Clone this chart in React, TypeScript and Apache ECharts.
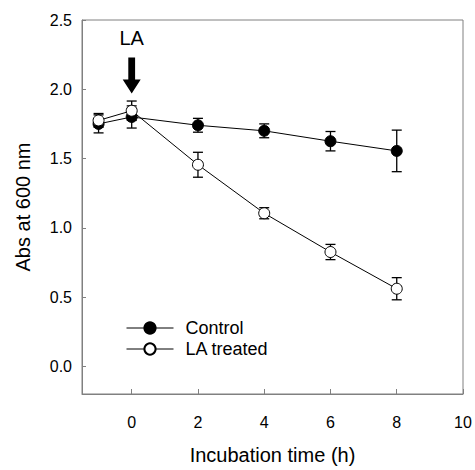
import React, { useEffect, useRef } from "react";
import * as echarts from "echarts";

const times = [-1, 0, 2, 4, 6, 8];
const control = [1.75, 1.8, 1.74, 1.7, 1.625, 1.555];
const controlErr = [0.065, 0.08, 0.05, 0.05, 0.07, 0.15];
const laTreated = [1.775, 1.845, 1.455, 1.105, 0.825, 0.56];
const laErr = [0.05, 0.07, 0.09, 0.04, 0.055, 0.08];
const xTicks = [0, 2, 4, 6, 8, 10];
const yTicks = [0, 0.5, 1.0, 1.5, 2.0, 2.5];
const seriesNames = ["Control", "LA treated"];
const arrowX = 0;
const arrowTipY = 1.97;

const FONT = '"Liberation Sans", Arial, Helvetica, sans-serif';
const AXIS_COLOR = "#808080";

function errData(vals: number[], errs: number[]) {
  return times.map((t, i) => [t, vals[i] - errs[i], vals[i] + errs[i]]);
}

function errRender(params: any, api: any) {
  const x = api.value(0);
  const lo = api.value(1);
  const hi = api.value(2);
  const pTop = api.coord([x, hi]);
  const pBot = api.coord([x, lo]);
  const w = 5;
  const style = { stroke: "#000", lineWidth: 1.3 };
  return {
    type: "group",
    children: [
      { type: "line", shape: { x1: pTop[0], y1: pTop[1], x2: pBot[0], y2: pBot[1] }, style },
      { type: "line", shape: { x1: pTop[0] - w, y1: pTop[1], x2: pTop[0] + w, y2: pTop[1] }, style },
      { type: "line", shape: { x1: pBot[0] - w, y1: pBot[1], x2: pBot[0] + w, y2: pBot[1] }, style },
    ],
  };
}

function legendFor(name: string, top: number) {
  return {
    data: [name],
    orient: "vertical",
    left: 126,
    top,
    padding: 0,
    itemWidth: 47,
    itemHeight: 14,
    lineStyle: { width: 1, color: "#000" },
    textStyle: {
      fontFamily: FONT,
      fontSize: 18,
      lineHeight: 16,
      color: "#000",
      padding: [0, 0, 0, 7],
    },
  };
}

export default function App() {
  const ref = useRef<HTMLDivElement>(null);
  useEffect(() => {
    if (!ref.current) return;
    const chart = echarts.init(ref.current, null, { renderer: "svg" });
    chart.setOption({
      animation: false,
      backgroundColor: "#fff",
      textStyle: { fontFamily: FONT },
      grid: {
        left: 82,
        top: 20,
        width: 381,
        height: 380,
        show: true,
        borderColor: AXIS_COLOR,
        borderWidth: 1,
        backgroundColor: "transparent",
      },
      legend: [legendFor(seriesNames[0], 319), legendFor(seriesNames[1], 340)],
      xAxis: {
        type: "value",
        min: -1.5,
        max: 10,
        name: "Incubation time (h)",
        nameLocation: "middle",
        nameGap: 51,
        nameTextStyle: { fontFamily: FONT, fontSize: 20, color: "#000" },
        axisLine: { show: true, onZero: false, lineStyle: { color: AXIS_COLOR, width: 1 } },
        axisTick: {
          show: true,
          inside: true,
          length: 5,
          customValues: xTicks,
          lineStyle: { color: AXIS_COLOR },
        },
        axisLabel: {
          customValues: xTicks,
          margin: 20,
          fontFamily: FONT,
          fontSize: 16,
          color: "#000",
          formatter: (v: number) => String(v),
        },
        splitLine: { show: false },
      },
      yAxis: {
        type: "value",
        min: -0.2,
        max: 2.5,
        name: "Abs at 600 nm",
        nameLocation: "middle",
        nameGap: 49,
        nameTextStyle: { fontFamily: FONT, fontSize: 20, color: "#000" },
        axisLine: { show: true, onZero: false, lineStyle: { color: AXIS_COLOR, width: 1 } },
        axisTick: {
          show: true,
          inside: true,
          length: 4,
          customValues: yTicks,
          lineStyle: { color: AXIS_COLOR },
        },
        axisLabel: {
          customValues: yTicks,
          margin: 10,
          fontFamily: FONT,
          fontSize: 16,
          color: "#000",
          formatter: (v: number) => v.toFixed(1),
        },
        splitLine: { show: false },
      },
      series: [
        {
          type: "custom",
          name: "ctrlErr",
          renderItem: errRender,
          data: errData(control, controlErr),
          encode: { x: 0, y: [1, 2] },
          z: 1,
          silent: true,
        },
        {
          type: "custom",
          name: "laErr",
          renderItem: errRender,
          data: errData(laTreated, laErr),
          encode: { x: 0, y: [1, 2] },
          z: 1,
          silent: true,
        },
        {
          type: "line",
          name: seriesNames[0],
          data: times.map((t, i) => [t, control[i]]),
          symbol: "circle",
          symbolSize: 11,
          lineStyle: { color: "#000", width: 1 },
          itemStyle: { color: "#000", borderColor: "#000", borderWidth: 1 },
          z: 3,
        },
        {
          type: "line",
          name: seriesNames[1],
          data: times.map((t, i) => [t, laTreated[i]]),
          symbol: "circle",
          symbolSize: 11,
          lineStyle: { color: "#000", width: 1 },
          itemStyle: { color: "#fff", borderColor: "#000", borderWidth: 1 },
          z: 4,
        },
      ],
    });

    const tip = chart.convertToPixel({ gridIndex: 0 }, [arrowX, arrowTipY]) as number[];
    const cx = tip[0];
    const ty = tip[1];
    chart.setOption({
      graphic: [
        {
          type: "polygon",
          shape: {
            points: [
              [cx - 3.4, ty - 36],
              [cx + 3.4, ty - 36],
              [cx + 3.4, ty - 14],
              [cx + 9, ty - 14],
              [cx, ty],
              [cx - 9, ty - 14],
              [cx - 3.4, ty - 14],
            ],
          },
          style: { fill: "#000" },
          z: 10,
        },
        {
          type: "text",
          x: cx,
          y: ty - 55,
          style: {
            text: "LA",
            fontFamily: FONT,
            fontSize: 20,
            fill: "#000",
            align: "center",
            verticalAlign: "middle",
          },
          z: 10,
        },
      ],
    });

    return () => chart.dispose();
  }, []);
  return (
    <div
      ref={ref}
      style={{ position: "absolute", left: 0, top: 0, width: 475, height: 470 }}
    />
  );
}
